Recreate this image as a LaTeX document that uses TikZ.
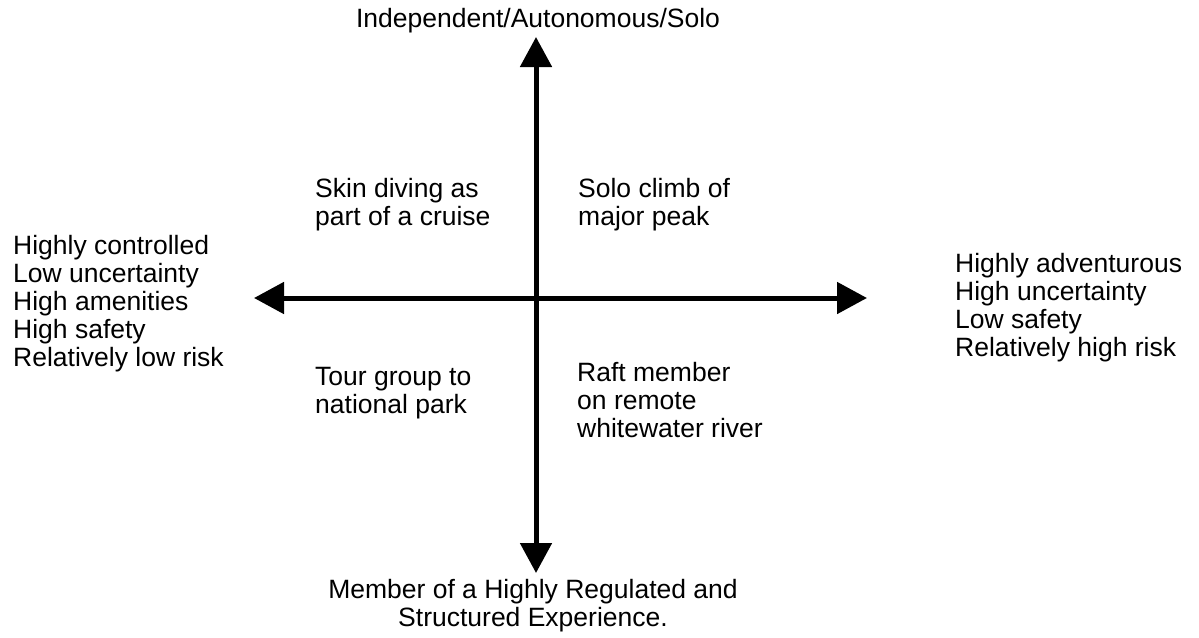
\documentclass[tikz,border=0pt]{standalone}
\usepackage{fontspec}
\setmainfont{Liberation Sans}
\usepackage{tikz}
\usetikzlibrary{arrows.meta}

\begin{document}
\begin{tikzpicture}[x=1pt,y=-1pt,
    axis/.style={line width=5pt,{Triangle[length=30pt,width=31pt]}-{Triangle[length=30pt,width=31pt]}},
    txt/.style={font=\fontsize{26.5}{28}\selectfont,inner sep=0pt,align=left,anchor=west}]
      \useasboundingbox (0,0) rectangle (1199,637);
      \coordinate (N) at (536,37);
      \coordinate (S) at (536,573);
      \coordinate (W) at (254,298);
      \coordinate (E) at (867,298);

      \draw[axis] (W) -- (E);
      \draw[axis] (N) -- (S);

      \node[txt,anchor=center,align=center] (top) at (538,21) {Independent/Autonomous/Solo};
      \node[txt,anchor=center,align=center] (bottom) at (533,606) {Member of a Highly Regulated and\\Structured Experience.};
      \node[txt] (left) at (13,304) {Highly controlled\\Low uncertainty\\High amenities\\High safety\\Relatively low risk};
      \node[txt] (right) at (955,308) {Highly adventurous\\High uncertainty\\Low safety\\Relatively high risk};

      \node[txt] (q2) at (315,205) {Skin diving as\\part of a cruise};
      \node[txt] (q1) at (578,205) {Solo climb of\\major peak};
      \node[txt] (q3) at (315,393) {Tour group to\\national park};
      \node[txt] (q4) at (577,400) {Raft member\\on remote\\whitewater river};
\end{tikzpicture}
\end{document}
